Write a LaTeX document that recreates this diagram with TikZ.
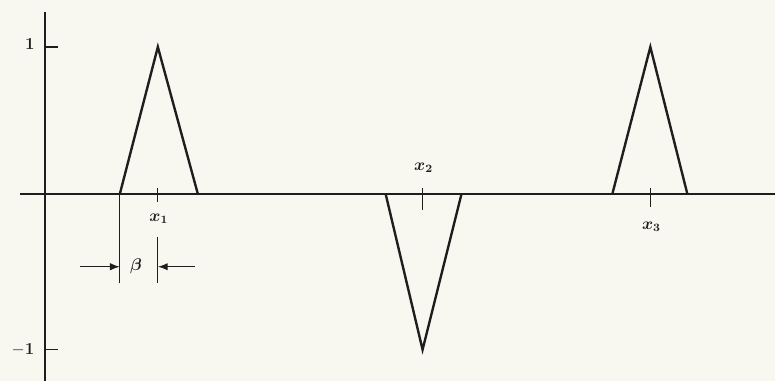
\documentclass[tikz,border=0pt]{standalone}
\usepackage{amsmath, amssymb}
\usetikzlibrary{arrows.meta}
\definecolor{Ink}{HTML}{1E1E1E}
\definecolor{Paper}{HTML}{F8F8F1}
\tikzset{
    axisline/.style={line width=1.1pt, color=Ink},
    pulse/.style={line width=1.7pt, color=Ink, line join=miter},
    marklbl/.style={font=\large, text=Ink, inner sep=1pt},
    dimarrow/.style={-Latex, line width=0.9pt, color=Ink},
}
\begin{document}
\begin{tikzpicture}[x=0.025cm, y=0.025cm]
                % Sfondo
                \fill[Paper] (-45,-187) rectangle (731,194);

                % Assi
                \draw[axisline] (-25,0) -- (731,0);
                \draw[axisline] (0,-187) -- (0,182);
                \draw[axisline] (0,147) -- (13,147);
                \draw[axisline] (0,-156) -- (13,-156);
                \node[marklbl] (one) at (-15,150) {$\mathbf{1}$};
                \node[marklbl] (mone) at (-22,-156) {$\mathbf{-1}$};

                % Impulso 1
                \draw[pulse] (75,0) -- (113,147) -- (153,0);
                \draw[axisline, line width=0.8pt] (113,6) -- (113,-8);
                \node[marklbl] (xa) at (114,-25) {$\boldsymbol{x_1}$};

                % Larghezza beta
                \coordinate (la) at (75,-73);
                \coordinate (lb) at (113,-73);
                \draw[axisline, line width=0.8pt] (75,0) -- (75,-89);
                \draw[axisline, line width=0.8pt] (113,-43) -- (113,-89);
                \draw[dimarrow] (35,-73) -- (la);
                \draw[dimarrow] (150,-73) -- (lb);
                \node[marklbl] (beta) at (91,-73) {$\boldsymbol{\beta}$};

                % Impulso 2 (negativo)
                \draw[pulse] (341,0) -- (378,-156) -- (417,0);
                \draw[axisline, line width=0.8pt] (378,6) -- (378,-16);
                \node[marklbl] (xb) at (379,26) {$\boldsymbol{x_2}$};

                % Impulso 3
                \draw[pulse] (568,0) -- (606,147) -- (643,0);
                \draw[axisline, line width=0.8pt] (606,6) -- (606,-13);
                \node[marklbl] (xc) at (607,-33) {$\boldsymbol{x_3}$};
            \end{tikzpicture}
\end{document}
